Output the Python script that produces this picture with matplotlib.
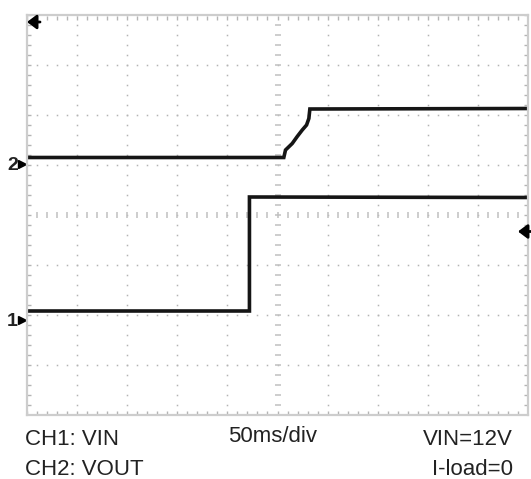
import numpy as np
import matplotlib.pyplot as plt

# Oszilloskop-Bild: Zeit in ms (50 ms/div), Spannung in Divisions (Mitte = 0)
ch2_t = [0, 256.3, 258.0, 264.7, 269.7, 274.7, 279.0, 281.3, 282.3, 501]
ch2_v = [1.15, 1.15, 1.30, 1.43, 1.57, 1.70, 1.80, 1.93, 2.12, 2.13]

ch1_t = [0, 222.0, 222.0, 501]
ch1_v = [-1.92, -1.92, 0.36, 0.35]

ch_labels = ['1', '2']
ch_marker_v = [-2.1, 1.02]
trig_v = -0.33
top_marker_v = 3.86

labels_left = ['CH1: VIN', 'CH2: VOUT']
label_center = '50ms/div'
labels_right = ['VIN=12V', 'I-load=0']

plt.rcParams['font.family'] = ['Liberation Sans', 'DejaVu Sans']

W, H = 531, 479
fig = plt.figure(figsize=(W / 100, H / 100), dpi=100)
ax = fig.add_axes([27 / W, (H - 415) / H, 501 / W, 400 / H])
ax.set_xlim(0, 500)
ax.set_ylim(-4, 4)
ax.set_xticks([])
ax.set_yticks([])
for s in ax.spines.values():
    s.set_color('#cdcdcd')
    s.set_linewidth(1.6)

grid_c = '#b4b4b4'
# gepunktete Rasterlinien
fine_t = np.arange(0, 501, 10)
fine_v = np.arange(-4, 4.01, 0.2)
for gx in range(50, 500, 50):
    if gx == 250:
        continue
    ax.plot([gx] * len(fine_v), fine_v, ls='none', marker='s', ms=1.1, color=grid_c, mew=0)
for gy in [-3, -2, -1, 1, 2, 3]:
    ax.plot(fine_t, [gy] * len(fine_t), ls='none', marker='s', ms=1.1, color=grid_c, mew=0)

# Mittelachsen mit feinen Strichen
ax.plot([250] * len(fine_v), fine_v, ls='none', marker='_', ms=5, color='#c0c0c0', mew=1.1)
ax.plot(fine_t, [0] * len(fine_t), ls='none', marker='|', ms=5, color='#c0c0c0', mew=1.1)

# Randstriche
ax.plot(fine_t, [4 - 0.05] * len(fine_t), ls='none', marker='|', ms=3, color=grid_c, mew=1)
ax.plot(fine_t, [-4 + 0.05] * len(fine_t), ls='none', marker='|', ms=3, color=grid_c, mew=1)
ax.plot([2] * len(fine_v), fine_v, ls='none', marker='_', ms=3, color=grid_c, mew=1)
ax.plot([498] * len(fine_v), fine_v, ls='none', marker='_', ms=3, color=grid_c, mew=1)

# Kurven
ax.plot(ch2_t, ch2_v, color='#151515', lw=2.6, solid_joinstyle='miter')
ax.plot(ch1_t, ch1_v, color='#151515', lw=2.6, solid_joinstyle='miter')

# Pfeile (Trigger / Pegel)
arr = dict(arrowstyle='-|>,head_length=0.4,head_width=0.3', color='black', lw=2,
           mutation_scale=14, shrinkA=0, shrinkB=0)
ax.annotate('', xy=(0, top_marker_v), xytext=(13, top_marker_v),
            arrowprops=arr, annotation_clip=False)
ax.annotate('', xy=(490, trig_v), xytext=(508, trig_v),
            arrowprops=arr, annotation_clip=False)

# Kanalmarken
for lab, mv in zip(ch_labels, ch_marker_v):
    ax.text(-9, mv - 0.02, lab, ha='right', va='center', fontsize=14, fontweight='bold',
            color='#222222', clip_on=False)
    ax.plot([-5], [mv], marker='>', ms=6, color='black', clip_on=False)

fs = 16
fig.text(25 / W, 1 - 445 / H, labels_left[0], fontsize=fs, color='#222222', va='baseline')
fig.text(25 / W, 1 - 475 / H, labels_left[1], fontsize=fs, color='#222222', va='baseline')
fig.text(273 / W, 1 - 442 / H, label_center, fontsize=fs, color='#222222', va='baseline', ha='center')
fig.text(513 / W, 1 - 445 / H, labels_right[0], fontsize=fs, color='#222222', va='baseline', ha='right')
fig.text(513 / W, 1 - 475 / H, labels_right[1], fontsize=fs, color='#222222', va='baseline', ha='right')

fig.savefig('out.png', dpi=100)
